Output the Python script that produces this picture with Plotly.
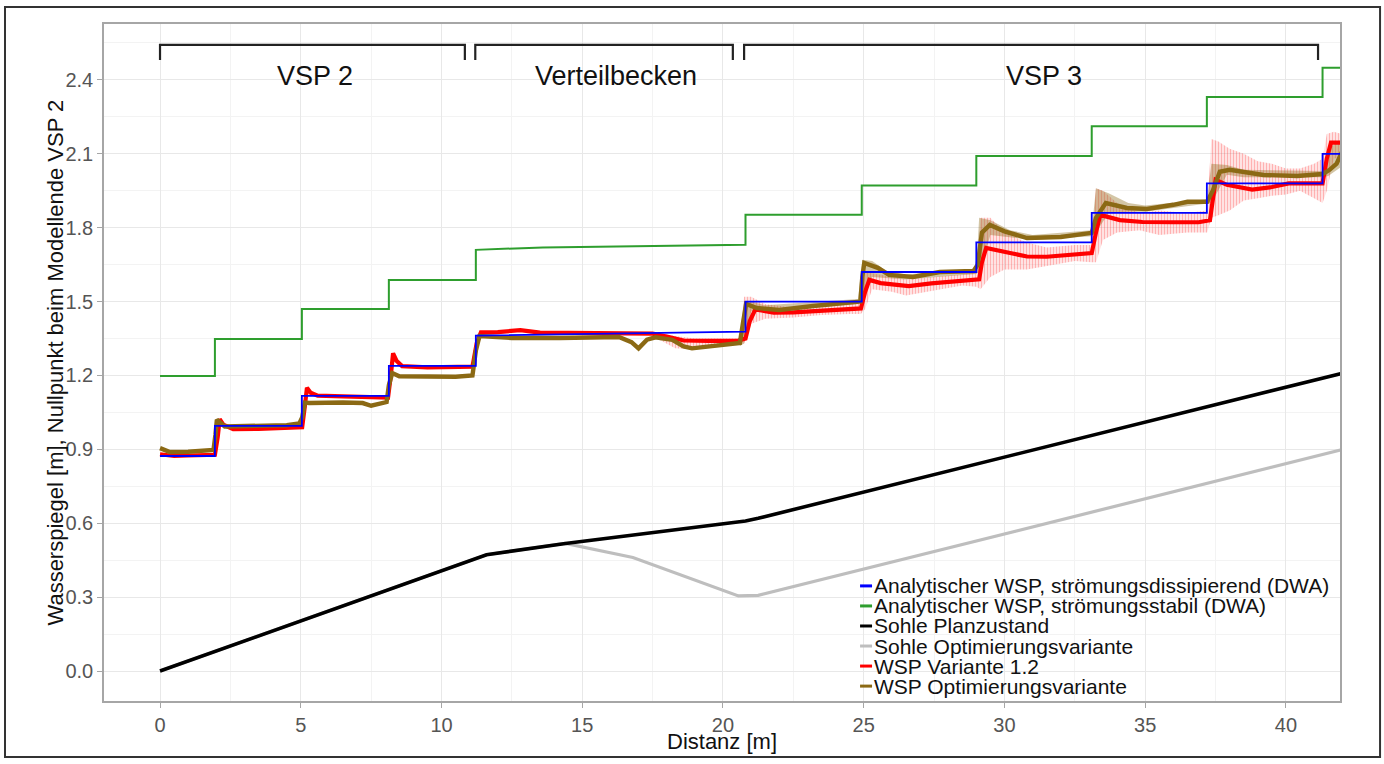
import plotly.graph_objects as go

# ---------------------------------------------------------------- data
# analytical water level, flow-dissipating (DWA)
dwa_diss_x = [0.0, 1.95, 1.95, 5.04, 5.04, 8.13, 8.13, 11.22, 11.22, 20.8, 20.8,
              24.93, 24.93, 29.0, 29.0, 33.1, 33.1, 37.19, 37.19, 41.3, 41.3, 42.0]
dwa_diss_y = [0.873, 0.873, 0.995, 0.995, 1.117, 1.117, 1.239, 1.239, 1.362, 1.378, 1.50,
              1.50, 1.62, 1.62, 1.74, 1.74, 1.86, 1.86, 1.98, 1.98, 2.10, 2.10]

# analytical water level, flow-stable (DWA)
dwa_stab_x = [0.0, 1.95, 1.95, 5.04, 5.04, 8.13, 8.13, 11.22, 11.22, 13.6, 20.8, 20.8,
              24.93, 24.93, 29.0, 29.0, 33.1, 33.1, 37.19, 37.19, 41.3, 41.3, 42.0]
dwa_stab_y = [1.198, 1.198, 1.348, 1.348, 1.470, 1.470, 1.588, 1.588, 1.710, 1.720, 1.731,
              1.852, 1.852, 1.971, 1.971, 2.091, 2.091, 2.212, 2.212, 2.331, 2.331, 2.449, 2.449]

# channel bed, planned state
bed_plan_x = [0.0, 11.6, 14.4, 17.5, 20.8, 21.25, 42.0]
bed_plan_y = [0.0, 0.472, 0.518, 0.562, 0.609, 0.620, 1.209]

# channel bed, optimised variant
bed_opt_x = [0.0, 11.6, 14.4, 16.8, 20.55, 21.25, 42.0]
bed_opt_y = [0.0, 0.472, 0.518, 0.461, 0.305, 0.307, 0.899]

# measured water level, variant 1.2
wsp_v12_x = [0.0, 0.5, 1.0, 1.5, 1.95, 2.05, 2.12, 2.25, 2.6, 3.5, 4.5, 5.05,
             5.15, 5.22, 5.35, 5.6, 6.5, 7.5, 8.1, 8.2, 8.28, 8.4, 8.6, 9.5, 10.5, 11.1,
             11.25, 11.4, 12.0, 12.8, 13.5, 15.0, 16.5, 17.5, 18.0, 18.6, 19.5, 20.5, 20.8,
             20.95, 21.15, 21.8, 22.5, 23.8, 24.9, 25.05, 25.2, 25.6, 26.2, 26.6, 27.4,
             28.5, 29.1, 29.2, 29.35, 30.2, 30.8, 31.5, 32.3, 33.1, 33.25, 33.4, 34.1,
             34.9, 36.0, 36.9, 37.3, 37.4, 37.5, 37.9, 38.8, 39.5, 40.1, 41.3, 41.45,
             41.6, 42.0]
wsp_v12_y = [0.880, 0.873, 0.875, 0.876, 0.878, 0.950, 1.022, 1.000, 0.982, 0.983, 0.988, 0.990,
             1.080, 1.150, 1.130, 1.118, 1.115, 1.112, 1.110, 1.200, 1.290, 1.260, 1.238, 1.233, 1.233, 1.236,
             1.330, 1.375, 1.376, 1.384, 1.374, 1.372, 1.372, 1.370, 1.358, 1.342, 1.340, 1.340, 1.350,
             1.420, 1.468, 1.455, 1.456, 1.465, 1.472, 1.540, 1.588, 1.575, 1.568, 1.563, 1.574,
             1.586, 1.590, 1.660, 1.718, 1.697, 1.683, 1.682, 1.690, 1.697, 1.780, 1.852, 1.831,
             1.823, 1.822, 1.822, 1.830, 1.930, 1.994, 1.974, 1.955, 1.965, 1.980, 1.980, 2.080,
             2.145, 2.145]

# spread of variant 1.2 (min / max)
v12_band_x = [17.5, 18.3, 19.0, 20.0, 20.6, 20.75, 21.0, 21.5, 22.5, 23.5, 24.5, 24.9,
              25.05, 25.3, 26.0, 26.5, 27.5, 28.5, 29.0, 29.15, 29.5, 30.0, 30.8, 31.5,
              32.5, 33.1, 33.25, 33.5, 34.0, 34.8, 35.5, 36.5, 37.2, 37.35, 37.6, 38.0,
              38.5, 39.0, 39.5, 40.0, 40.5, 41.0, 41.3, 41.45, 41.7, 42.0]
v12_band_lo = [1.360, 1.310, 1.305, 1.320, 1.330, 1.330, 1.410, 1.430, 1.435, 1.445, 1.450, 1.450,
               1.470, 1.550, 1.540, 1.525, 1.545, 1.565, 1.560, 1.550, 1.600, 1.630, 1.630, 1.645,
               1.665, 1.660, 1.660, 1.750, 1.780, 1.790, 1.770, 1.780, 1.780, 1.840, 1.850, 1.870,
               1.910, 1.920, 1.930, 1.935, 1.950, 1.920, 1.900, 1.950, 2.080, 2.090]
v12_band_hi = [1.375, 1.360, 1.350, 1.350, 1.350, 1.520, 1.520, 1.490, 1.475, 1.485, 1.490, 1.500,
               1.620, 1.615, 1.600, 1.590, 1.600, 1.610, 1.620, 1.840, 1.840, 1.780, 1.740, 1.720,
               1.730, 1.730, 1.960, 1.950, 1.900, 1.860, 1.870, 1.860, 1.870, 2.160, 2.150, 2.120,
               2.100, 2.070, 2.060, 2.040, 2.040, 2.060, 2.080, 2.180, 2.190, 2.180]

# measured water level, optimised variant
wsp_opt_x = [0.0, 0.35, 1.0, 1.9, 1.97, 2.02, 2.3, 3.5, 4.5, 4.95, 5.05, 5.15, 5.3,
             6.5, 7.2, 7.5, 7.8, 8.05, 8.13, 8.25, 8.5, 9.5, 10.5, 11.1, 11.22, 11.35,
             12.5, 14.2, 16.3, 16.75, 17.0, 17.3, 17.6, 18.2, 18.6, 18.9, 19.5, 20.1,
             20.6, 20.72, 20.82, 21.2, 22.0, 23.2, 24.4, 24.88, 24.95, 25.02, 25.5, 25.9,
             26.75, 27.7, 28.9, 29.05, 29.2, 29.48, 30.0, 30.8, 32.0, 33.1, 33.25, 33.6,
             34.35, 35.06, 36.0, 36.5, 37.2, 37.4, 37.65, 38.0, 39.2, 40.4, 41.3, 41.55,
             41.8, 42.0]
wsp_opt_y = [0.905, 0.889, 0.890, 0.898, 0.960, 1.020, 0.993, 0.995, 0.998, 1.005, 1.030, 1.090, 1.088,
             1.090, 1.088, 1.077, 1.085, 1.092, 1.160, 1.210, 1.197, 1.194, 1.195, 1.200, 1.300, 1.360,
             1.352, 1.352, 1.356, 1.335, 1.310, 1.345, 1.355, 1.345, 1.318, 1.310, 1.318, 1.324,
             1.332, 1.420, 1.490, 1.474, 1.466, 1.482, 1.498, 1.500, 1.600, 1.657, 1.637, 1.608,
             1.600, 1.620, 1.624, 1.650, 1.780, 1.811, 1.785, 1.758, 1.762, 1.779, 1.840, 1.900,
             1.880, 1.876, 1.893, 1.905, 1.905, 1.950, 2.027, 2.035, 2.014, 2.010, 2.018, 2.035,
             2.060, 2.110]

# spread of optimised variant (min / max)
opt_band_x = [20.6, 20.75, 21.0, 21.5, 24.8, 24.95, 25.3, 25.8, 26.5, 29.0, 29.1, 29.5,
              30.2, 31.0, 33.1, 33.25, 33.7, 34.4, 35.0, 37.2, 37.35, 37.9, 38.5, 41.3,
              41.5, 42.0]
opt_band_lo = [1.320, 1.330, 1.460, 1.460, 1.490, 1.520, 1.600, 1.595, 1.590, 1.612, 1.620, 1.770,
               1.760, 1.750, 1.765, 1.780, 1.860, 1.865, 1.865, 1.895, 1.900, 2.015, 2.005, 2.005,
               2.010, 2.050]
opt_band_hi = [1.345, 1.500, 1.500, 1.485, 1.510, 1.670, 1.665, 1.625, 1.610, 1.632, 1.840, 1.830,
               1.790, 1.770, 1.790, 1.960, 1.940, 1.900, 1.890, 1.915, 2.060, 2.055, 2.035, 2.030,
               2.120, 2.160]

# reach brackets along the top
reach_names = ["VSP 2", "Verteilbecken", "VSP 3"]
reach_start = [0.0, 11.2, 20.75]
reach_end = [10.83, 20.35, 41.14]
reach_label_x = [5.5, 16.2, 31.4]
bracket_top = 2.542
bracket_foot = 2.481
reach_label_y = 2.416

# legend entries
series_names = [
    "Analytischer WSP, strömungsdissipierend (DWA)",
    "Analytischer WSP, strömungsstabil (DWA)",
    "Sohle Planzustand",
    "Sohle Optimierungsvariante",
    "WSP Variante 1.2",
    "WSP Optimierungsvariante",
]
series_colors = ["#0000ff", "#2e9e2e", "#000000", "#bebebe", "#ff0000", "#8b6914"]

# ---------------------------------------------------------------- figure
FONT = "Liberation Sans, Arial, sans-serif"
fig = go.Figure()

# bed profiles
fig.add_trace(go.Scatter(x=bed_opt_x, y=bed_opt_y, mode="lines", name=series_names[3],
                         line=dict(color=series_colors[3], width=3.2)))
fig.add_trace(go.Scatter(x=bed_plan_x, y=bed_plan_y, mode="lines", name=series_names[2],
                         line=dict(color=series_colors[2], width=3.6)))

# spread of variant 1.2 drawn as dense vertical hatching
fig.add_trace(go.Scatter(x=v12_band_x, y=v12_band_lo, mode="lines",
                         line=dict(width=0, color="rgba(0,0,0,0)"), hoverinfo="skip"))
fig.add_trace(go.Scatter(x=v12_band_x, y=v12_band_hi, mode="lines", fill="tonexty",
                         line=dict(width=0, color="rgba(0,0,0,0)"),
                         fillcolor="rgba(255,0,0,0.15)",
                         fillpattern=dict(shape="|", fgcolor="rgba(255,30,30,0.55)",
                                          bgcolor="rgba(255,120,120,0.16)",
                                          size=3, solidity=0.4),
                         hoverinfo="skip"))

# spread of the optimised variant
fig.add_trace(go.Scatter(x=opt_band_x, y=opt_band_lo, mode="lines",
                         line=dict(width=0, color="rgba(0,0,0,0)"), hoverinfo="skip"))
fig.add_trace(go.Scatter(x=opt_band_x, y=opt_band_hi, mode="lines", fill="tonexty",
                         line=dict(width=0, color="rgba(0,0,0,0)"),
                         fillcolor="rgba(139,105,20,0.38)", hoverinfo="skip"))

# measured water levels
fig.add_trace(go.Scatter(x=wsp_v12_x, y=wsp_v12_y, mode="lines", name=series_names[4],
                         line=dict(color=series_colors[4], width=4.2)))
fig.add_trace(go.Scatter(x=wsp_opt_x, y=wsp_opt_y, mode="lines", name=series_names[5],
                         line=dict(color=series_colors[5], width=4.4)))

# analytical water levels
fig.add_trace(go.Scatter(x=dwa_stab_x, y=dwa_stab_y, mode="lines", name=series_names[1],
                         line=dict(color=series_colors[1], width=2)))
fig.add_trace(go.Scatter(x=dwa_diss_x, y=dwa_diss_y, mode="lines", name=series_names[0],
                         line=dict(color=series_colors[0], width=1.8)))

# reach brackets and names
for name, xs, xe, xl in zip(reach_names, reach_start, reach_end, reach_label_x):
    fig.add_trace(go.Scatter(x=[xs, xs, xe, xe],
                             y=[bracket_foot, bracket_top, bracket_top, bracket_foot],
                             mode="lines", line=dict(color="#222222", width=2.2),
                             hoverinfo="skip"))
    fig.add_annotation(x=xl, y=reach_label_y, xref="x", yref="y", text=name,
                       showarrow=False, font=dict(family=FONT, size=27, color="#111111"))

fig.update_traces(showlegend=False)

# legend block in the lower right corner of the panel
leg_x0 = 0.6117
leg_key_w = 0.0097
leg_y0 = 0.170
leg_dy = 0.0296
for i, (nm, col) in enumerate(zip(series_names, series_colors)):
    yy = leg_y0 - i * leg_dy
    fig.add_shape(type="line", xref="paper", yref="paper",
                  x0=leg_x0, x1=leg_x0 + leg_key_w, y0=yy, y1=yy,
                  line=dict(color=col, width=3))
    fig.add_annotation(x=leg_x0 + leg_key_w + 0.0003, y=yy, xref="paper", yref="paper",
                       text=nm, showarrow=False, xanchor="left", yanchor="middle",
                       font=dict(family=FONT, size=21, color="#111111"))

# axis titles
fig.add_annotation(x=0.5, y=-0.0591, xref="paper", yref="paper", text="Distanz [m]",
                   showarrow=False, xanchor="center", yanchor="middle",
                   font=dict(family=FONT, size=22, color="#111111"))
fig.add_annotation(x=-0.0396, y=0.5, xref="paper", yref="paper",
                   text="Wasserspiegel [m], Nullpunkt beim Modellende VSP 2",
                   textangle=-90, showarrow=False, xanchor="center", yanchor="middle",
                   font=dict(family=FONT, size=22, color="#111111"))

# outer frame around the whole graphic
fig.add_shape(type="rect", xref="paper", yref="paper",
              x0=-0.0801, x1=1.0324, y0=-0.0827, y1=1.0251,
              line=dict(color="#333333", width=2), layer="below")

axis_common = dict(
    showline=True, linecolor="#a6a6a6", linewidth=1.5, mirror=True,
    ticks="outside", ticklen=5, tickcolor="#a6a6a6", tickwidth=1.2,
    gridcolor="#e8e8e8", gridwidth=1.1, zeroline=False,
    tickfont=dict(family=FONT, size=20, color="#555555"),
)

fig.update_xaxes(
    range=[-1.99, 41.92], tick0=0, dtick=5,
    minor=dict(dtick=2.5, showgrid=True, gridcolor="#f3f3f3", gridwidth=0.8, ticks=""),
    **axis_common,
)
fig.update_yaxes(
    range=[-0.1218, 2.627], tick0=0, dtick=0.3, tickformat=".1f",
    minor=dict(dtick=0.15, showgrid=True, gridcolor="#f3f3f3", gridwidth=0.8, ticks=""),
    **axis_common,
)

fig.update_layout(
    width=1384, height=764,
    margin=dict(l=104, r=44, t=24, b=63, autoexpand=False),
    paper_bgcolor="white", plot_bgcolor="white",
    font=dict(family=FONT),
    showlegend=False,
)

fig.write_html("out.html")
